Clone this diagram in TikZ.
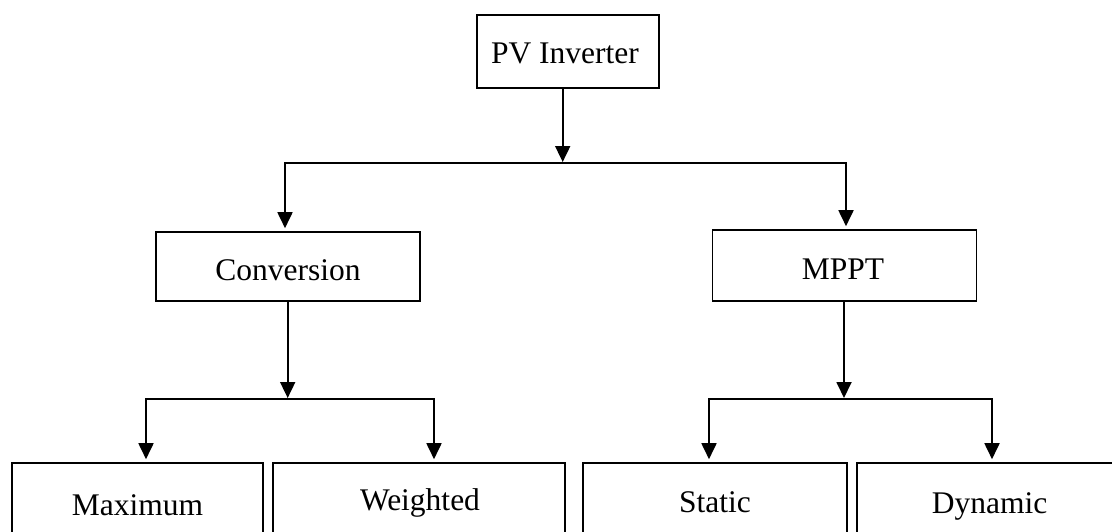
\documentclass[tikz,border=0pt]{standalone}
\usepackage{fontspec}
\setmainfont{Liberation Serif}
\usetikzlibrary{arrows.meta}
\begin{document}
\begin{tikzpicture}[x=1pt,y=-1pt,
  box/.style={draw, line width=1.6pt, inner sep=0pt},
  lbl/.style={font=\fontsize{31.5}{36}\selectfont, inner sep=0pt, anchor=base},
  arr/.style={line width=1.8pt, -{Triangle[width=15pt,length=16pt]}, shorten >=1pt},
  fork/.style={line width=1.8pt, {Triangle[width=15pt,length=16pt]}-{Triangle[width=15pt,length=16pt]}, shorten >=3pt, shorten <=3pt}]
\useasboundingbox (0,0) rectangle (1112,531);
\clip (0,0) rectangle (1112,531);
\fill[white] (0,0) rectangle (1112,531);
% boxes
\node[box, minimum width=182pt, minimum height=73pt] (pv) at (568,51.5) {};
\node[lbl] (pvt) at (565,63) {PV Inverter};
\node[box, minimum width=264pt, minimum height=69pt] (conv) at (288,266.5) {};
\node[lbl] (convt) at (288,280) {Conversion};
\node[box, minimum width=264pt, minimum height=71pt] (mppt) at (844.5,265.5) {};
\node[lbl] (mpptt) at (843,279) {MPPT};
\node[box, minimum width=251pt, minimum height=97pt] (max) at (137.5,511.5) {};
\node[lbl] (maxt) at (137.5,515) {Maximum};
\node[box, minimum width=292pt, minimum height=97pt] (wei) at (419,511.5) {};
\node[lbl] (weit) at (420,510) {Weighted};
\node[box, minimum width=264pt, minimum height=97pt] (sta) at (715,511.5) {};
\node[lbl] (stat) at (715,512) {Static};
\node[box, minimum width=268pt, minimum height=97pt] (dyn) at (991,511.5) {};
\node[lbl] (dynt) at (989.5,513) {Dynamic};
% level 1 connectors
\coordinate (j1) at (562.7,163);
\coordinate (c1) at (285,163);
\coordinate (m1) at (846,163);
\draw[arr] (pv.south -| j1) -- (j1);
\draw[fork] (c1 |- conv.north) -- (c1) -- (m1) -- (m1 |- mppt.north);
% level 2 connectors
\coordinate (j2) at (287.7,399);
\coordinate (a1) at (146,399);
\coordinate (b1) at (434,399);
\draw[arr] (conv.south -| j2) -- (j2);
\draw[fork] (a1 |- max.north) -- (a1) -- (b1) -- (b1 |- wei.north);
\coordinate (j3) at (844,399);
\coordinate (a2) at (709,399);
\coordinate (b2) at (992,399);
\draw[arr] (mppt.south -| j3) -- (j3);
\draw[fork] (a2 |- sta.north) -- (a2) -- (b2) -- (b2 |- dyn.north);
\end{tikzpicture}
\end{document}
